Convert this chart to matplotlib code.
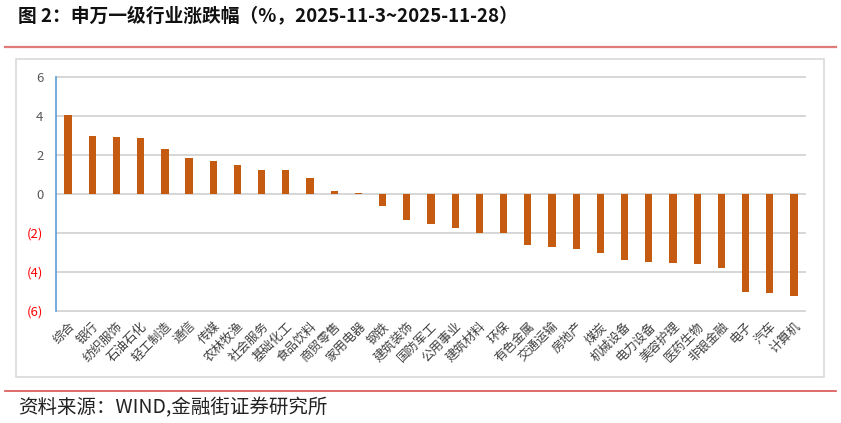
import matplotlib
matplotlib.use("Agg")
import matplotlib.pyplot as plt
from matplotlib.patches import Rectangle
from matplotlib.lines import Line2D

plt.rcParams['font.family'] = ['Noto Sans CJK SC', 'DejaVu Sans']

categories = ["综合", "银行", "纺织服饰", "石油石化", "轻工制造", "通信", "传媒", "农林牧渔",
              "社会服务", "基础化工", "食品饮料", "商贸零售", "家用电器", "钢铁", "建筑装饰",
              "国防军工", "公用事业", "建筑材料", "环保", "有色金属", "交通运输", "房地产",
              "煤炭", "机械设备", "电力设备", "美容护理", "医药生物", "非银金融", "电子",
              "汽车", "计算机"]
values = [4.05, 2.97, 2.94, 2.89, 2.31, 1.83, 1.71, 1.50,
          1.23, 1.23, 0.84, 0.15, 0.06, -0.63, -1.35,
          -1.54, -1.74, -2.02, -2.02, -2.62, -2.70, -2.80,
          -3.04, -3.37, -3.49, -3.52, -3.61, -3.81, -5.03,
          -5.08, -5.23]
yticks = [-6, -4, -2, 0, 2, 4, 6]
ytick_labels = ["(6)", "(4)", "(2)", "0", "2", "4", "6"]

W, H = 841, 423
fig = plt.figure(figsize=(W / 100, H / 100), dpi=100)

# decorative lines and frame
fig.add_artist(Line2D([5 / W, 836 / W], [1 - 47 / H, 1 - 47 / H], color="#E07B78", lw=1.6))
fig.add_artist(Line2D([5 / W, 836 / W], [1 - 391 / H, 1 - 391 / H], color="#D9534F", lw=1.2))
fig.add_artist(Rectangle((16 / W, 1 - 377 / H), (824 - 16) / W, (377 - 59) / H,
                         fill=False, edgecolor="#D9D9D9", lw=1.2))

fig.text(18 / W, 1 - 17 / H, "图 2：申万一级行业涨跌幅（%，2025-11-3~2025-11-28）",
         fontsize=13.5, fontweight="bold", color="#111111", va="center", ha="left")
fig.text(18 / W, 1 - 408 / H, "资料来源：WIND,金融街证券研究所",
         fontsize=14, style="italic", color="#222222", va="center", ha="left")

# axes: y=6 at 77px, y=-6 at 311px, slight margin so edge gridlines show
m = 0.1
ppu = (311 - 77) / 12.0
left, right = 56 / W, 806 / W
bottom = 1 - (311 + m * ppu) / H
top = 1 - (77 - m * ppu) / H
ax = fig.add_axes([left, bottom, right - left, top - bottom])

x = list(range(len(categories)))
ax.bar(x, values, width=0.3, color="#C55A11", zorder=3)
ax.set_xlim(-0.5, len(categories) - 0.5)
ax.set_ylim(-6 - m, 6 + m)
ax.set_yticks(yticks)
ax.set_yticklabels(ytick_labels, fontsize=9.5)
for lbl, v in zip(ax.get_yticklabels(), yticks):
    lbl.set_color("#FF0000" if v < 0 else "#595959")
ax.tick_params(axis="y", length=0, pad=9)
for v in yticks:
    ax.plot([-0.5, len(categories) - 0.5], [v, v], color="#D3D3D3", lw=1.3,
            zorder=1, clip_on=False, solid_capstyle="butt")
ax.set_xticks(x)
ax.set_xticklabels(categories, rotation=45, ha="right", rotation_mode="anchor",
                   fontsize=9, color="#404040")
ax.tick_params(axis="x", length=0, pad=5)
for s in ["top", "right", "bottom", "left"]:
    ax.spines[s].set_visible(False)
ax.plot([-0.5, -0.5], [-6, 6], color="#5B9BD5", lw=1.2, zorder=4, clip_on=False)

fig.savefig("out.png", dpi=100)
